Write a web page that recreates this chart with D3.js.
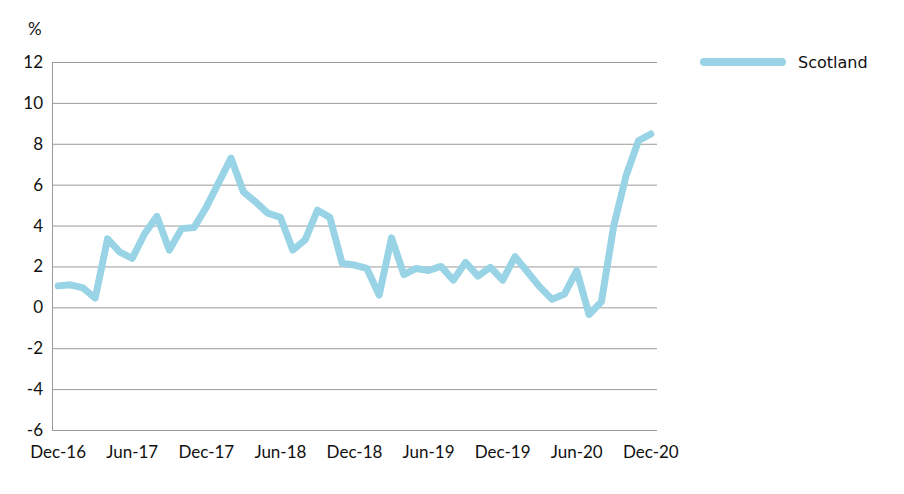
<!DOCTYPE html>
<html>
<head>
<meta charset="utf-8">
<script src="https://cdn.jsdelivr.net/npm/d3@7"></script>
<style>
    body { margin: 0; background: #fff; }
    .axis-label { font-family: "Liberation Sans Narrow", "Lato", sans-serif; font-size: 17px; fill: #111; }
    .legend text { font-family: "DejaVu Sans", Verdana, sans-serif; font-size: 16px; fill: #111; }
</style>
</head>
<body>
<div class="chart"></div>
<script>
// monthly, Dec-16 .. Dec-20
const months = d3.range(49).map((i) => {
    return d3.timeFormat("%b-%y")(new Date(2016, 11 + i, 1));
});
const scotland = [
    1.05, 1.1, 0.95, 0.45, 3.35, 2.7, 2.4, 3.6, 4.45, 2.8, 3.85, 3.9,
    4.9, 6.1, 7.3, 5.65, 5.15, 4.6, 4.4, 2.8, 3.3, 4.75, 4.4, 2.15,
    2.07, 1.9, 0.6, 3.4, 1.6, 1.9, 1.8, 2.0, 1.33, 2.2, 1.53, 1.96,
    1.33, 2.48, 1.74, 1.0, 0.39, 0.65, 1.79, -0.35, 0.28, 4.0, 6.45, 8.15,
    8.48
];
const yTicks = [-6, -4, -2, 0, 2, 4, 6, 8, 10, 12];
const xTickLabels = ["Dec-16", "Jun-17", "Dec-17", "Jun-18", "Dec-18", "Jun-19", "Dec-19", "Jun-20", "Dec-20"];
const seriesName = "Scotland";

const width = 904;
const height = 494;
const plot = {left: 52, right: 657, top: 62, bottom: 430};
const lineColor = "#98d3e6";

const svg = d3.select(".chart").append("svg")
    .attr("width", width)
    .attr("height", height);

const x = d3.scalePoint()
    .domain(months)
    .range([plot.left, plot.right])
    .padding(0.5);

const y = d3.scaleLinear()
    .domain([-6, 12])
    .range([plot.bottom, plot.top]);

// gridlines
svg.append("g")
    .selectAll("line")
    .data(yTicks)
    .enter()
    .append("line")
    .attr("x1", plot.left)
    .attr("x2", plot.right)
    .attr("y1", (d) => y(d) + 0.5)
    .attr("y2", (d) => y(d) + 0.5)
    .style("stroke", "#9a9a9a")
    .style("stroke-width", 1);

// left axis line
svg.append("line")
    .attr("x1", plot.left + 0.5)
    .attr("x2", plot.left + 0.5)
    .attr("y1", plot.top)
    .attr("y2", plot.bottom + 1)
    .style("stroke", "#9a9a9a");

// y labels
svg.append("g")
    .selectAll("text")
    .data(yTicks)
    .enter()
    .append("text")
    .attr("class", "axis-label")
    .attr("x", 43)
    .attr("y", (d) => y(d))
    .attr("dy", ".35em") //vertical align middle
    .attr("text-anchor", "end")
    .text((d) => d);

svg.append("text")
    .attr("class", "axis-label")
    .attr("x", 28)
    .attr("y", 35)
    .text("%");

// x labels
svg.append("g")
    .selectAll("text")
    .data(xTickLabels)
    .enter()
    .append("text")
    .attr("class", "axis-label")
    .attr("x", (d) => x(d))
    .attr("y", 458)
    .attr("text-anchor", "middle")
    .text((d) => d);

// line
const line = d3.line()
    .x((d, i) => x(months[i]))
    .y((d) => y(d));

svg.append("path")
    .datum(scotland)
    .attr("d", line)
    .style("fill", "none")
    .style("stroke", lineColor)
    .style("stroke-width", 7)
    .style("stroke-linejoin", "round")
    .style("stroke-linecap", "round");

// legend
const legend = svg.append("g")
    .attr("class", "legend")
    .attr("transform", "translate(704,62)");

legend.append("line")
    .attr("x1", 0)
    .attr("x2", 78)
    .style("stroke", lineColor)
    .style("stroke-width", 8)
    .style("stroke-linecap", "round");

legend.append("text")
    .attr("x", 94)
    .attr("dy", ".35em")
    .text(seriesName);
</script>
</body>
</html>
